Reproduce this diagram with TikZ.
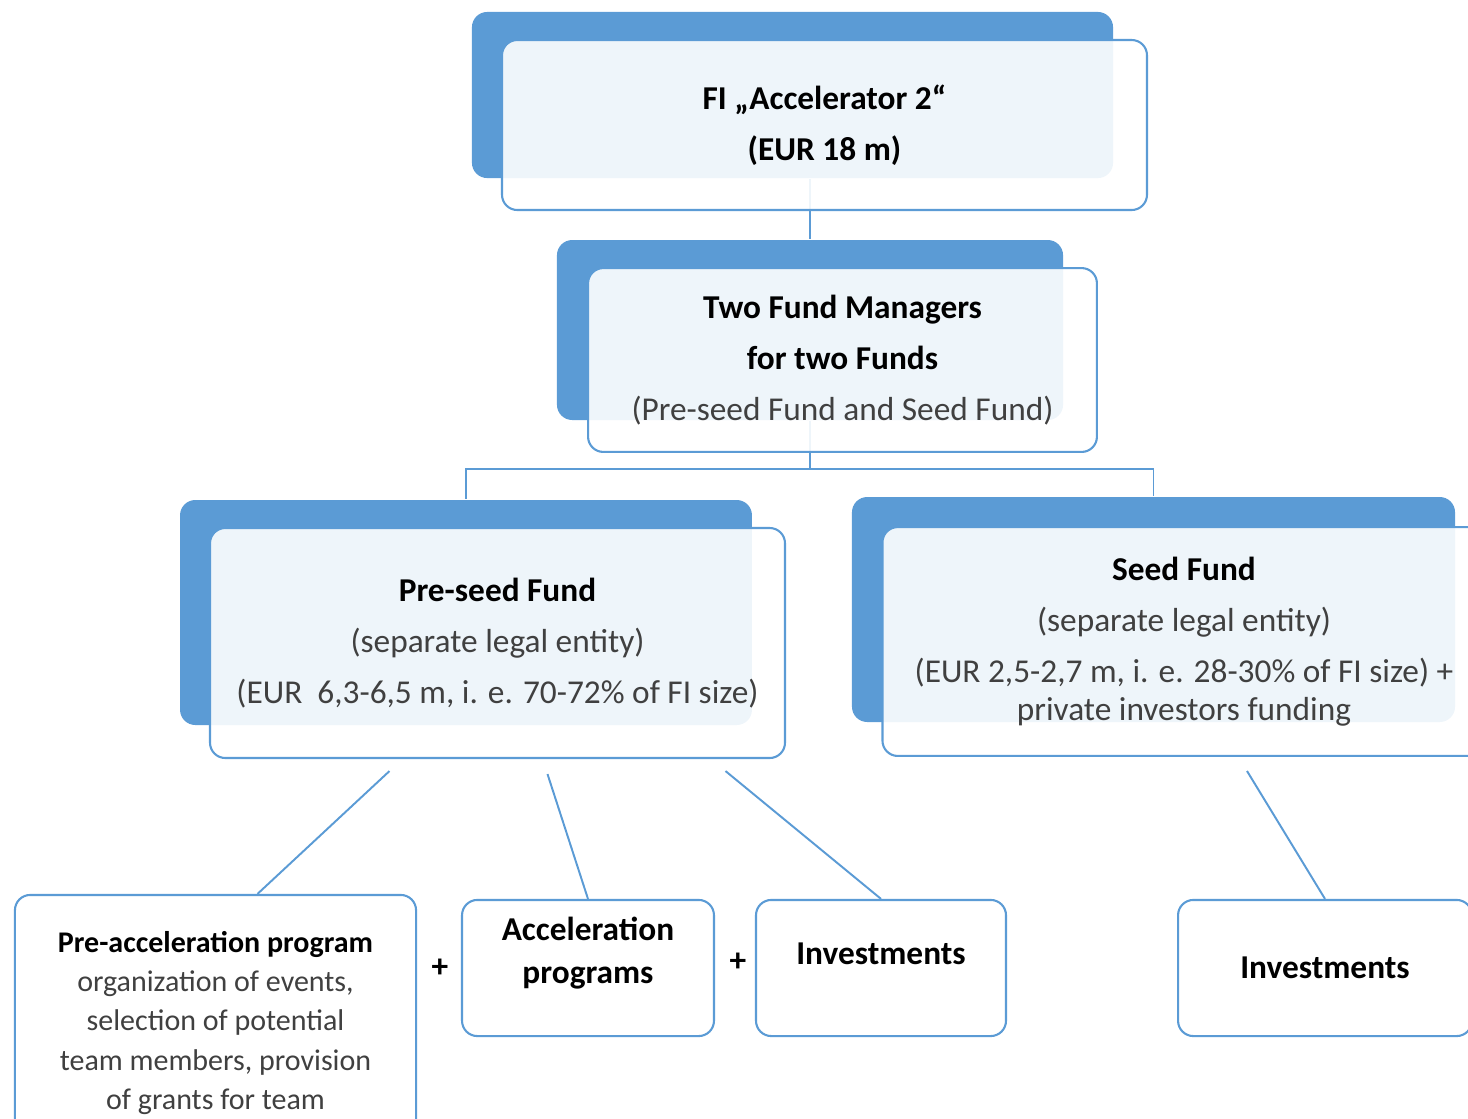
\documentclass[tikz,border=0pt]{standalone}
\usepackage{fontspec}
\setmainfont{Carlito}
\usepackage{xcolor}
\usepackage{tikz}
\usetikzlibrary{positioning, calc, backgrounds}
\definecolor{accblue}{RGB}{91,155,213}
\definecolor{txtgray}{RGB}{64,64,64}

\begin{document}
\begin{tikzpicture}[
    x=0.36pt, y=-0.36pt,
    backbox/.style={rectangle, rounded corners=5.5pt, fill=accblue, inner sep=0pt},
    fundbox/.style={rectangle, rounded corners=5.5pt, draw=accblue, line width=0.75pt, fill=white, fill opacity=0.9, text opacity=1, align=center, inner sep=0pt, font=\fontsize{12}{18.4}\selectfont},
    taskbox/.style={fundbox, fill opacity=1, font=\fontsize{12}{15.5}\selectfont\bfseries},
    link/.style={draw=accblue, line width=0.7pt},
    plus/.style={font=\fontsize{12}{14}\selectfont\bfseries}
]
\useasboundingbox (0,0) rectangle (1468,1118);
\clip (0,0) rectangle (1468,1118);

% FI node
\node[backbox, minimum width=230.8pt, minimum height=59.8pt] (fiback) at (792.5,95) {};
\node[fundbox, minimum width=232.2pt, minimum height=61.2pt] (fi) at (824.5,125)
    {\textbf{FI „Accelerator 2“}\\\textbf{(EUR 18 m)}};

% Fund managers
\node[backbox, minimum width=182.2pt, minimum height=64.8pt] (mgrback) at (810,330) {};
\node[fundbox, minimum width=183.2pt, minimum height=66.2pt] (mgr) at (842.5,360)
    {\textbf{Two Fund Managers}\\\textbf{for two Funds}\\{\color{txtgray}(Pre-seed Fund and Seed Fund)}};

% The two funds
\node[backbox, minimum width=205.9pt, minimum height=81pt] (preback) at (466,612.5) {};
\node[fundbox, minimum width=207pt, minimum height=82.8pt] (pre) at (497.5,643)
    {\textbf{Pre-seed Fund}\\{\color{txtgray}(separate legal entity)}\\{\color{txtgray}(EUR~~6,3-6,5 m, i. e. 70-72\% of FI size)}};
\node[backbox, minimum width=217.1pt, minimum height=81pt] (seedback) at (1153.5,609.5) {};
\node[fundbox, minimum width=217.1pt, minimum height=82.4pt] (seed) at (1184,641.5)
    {\textbf{Seed Fund}\\{\color{txtgray}(separate legal entity)}\\{\color{txtgray}(EUR 2,5-2,7 m, i. e. 28-30\% of FI size) +}\\[-5pt]{\color{txtgray}private investors funding}};

% Programs and investments
\node[taskbox, minimum width=144.4pt, minimum height=92.2pt, font=\fontsize{10.8}{14.2}\selectfont] (preacc) at (215.5,1023)
    {\textbf{Pre-acceleration program}\\{\color{txtgray}organization of events,}\\{\color{txtgray}selection of potential}\\{\color{txtgray}team members, provision}\\{\color{txtgray}of grants for team}};
\node[taskbox, minimum width=90.7pt, minimum height=49pt, text depth=13pt] (acc) at (588,968) {Acceleration\\programs};
\node[taskbox, minimum width=90pt, minimum height=49pt, text depth=10pt] (inv) at (881,968) {Investments};
\node[taskbox, minimum width=105.8pt, minimum height=49pt] (invseed) at (1325,968) {Investments};

\node[plus] (plus1) at (440,968) {+};
\node[plus] (plus2) at (738,962) {+};

% Edges
\begin{pgfonlayer}{background}
\draw[link] (mgrback.north |- fiback.south) -- (mgrback.north);
\draw[link] (mgrback.south) -- ++(0,48) -| (preback.north);
\draw[link] (mgrback.south) -- ++(0,48) -| (seedback.north);
\end{pgfonlayer}
\draw[link] ($(pre.south)+(-108,12)$) -- ($(preacc.north)+(42,0)$);
\draw[link] ($(pre.south)+(50,15)$) -- (acc.north);
\draw[link] ($(pre.south)+(228,12)$) -- (inv.north);
\draw[link] ($(seed.south)+(63,14)$) -- (invseed.north);

\end{tikzpicture}
\end{document}
